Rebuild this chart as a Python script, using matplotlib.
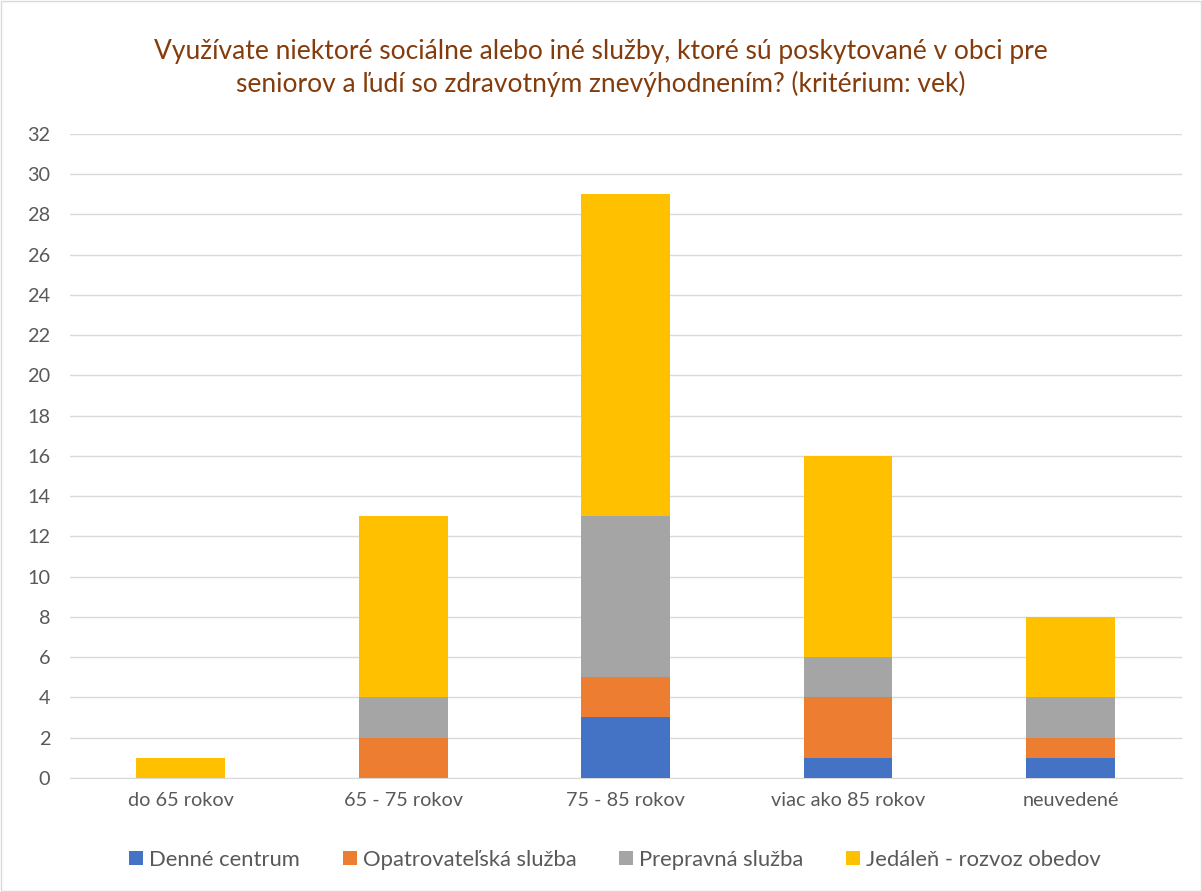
import matplotlib.pyplot as plt
import numpy as np

plt.rcParams['font.family'] = ['Lato', 'DejaVu Sans']

categories = ['do 65 rokov', '65 - 75 rokov', '75 - 85 rokov', 'viac ako 85 rokov', 'neuvedené']
series_names = ['Denné centrum', 'Opatrovateľská služba', 'Prepravná služba', 'Jedáleň - rozvoz obedov']
denne = [0, 0, 3, 1, 1]
opatr = [0, 2, 2, 3, 1]
preprav = [0, 2, 8, 2, 2]
jedalen = [1, 9, 16, 10, 4]
colors = ['#4472c4', '#ed7d31', '#a5a5a5', '#ffc000']

fig = plt.figure(figsize=(12.02, 8.92), dpi=100)
ax = fig.add_axes([0.058, 0.128, 0.925, 0.722])

x = np.arange(len(categories))
bottom = np.zeros(len(categories))
for vals, name, c in zip([denne, opatr, preprav, jedalen], series_names, colors):
    ax.bar(x, vals, 0.4, bottom=bottom, color=c, label=name, zorder=3)
    bottom += np.array(vals)

ax.set_xlim(-0.5, 4.5)
ax.set_ylim(0, 32)
ax.set_yticks(range(0, 33, 2))
ax.set_xticks(x)
ax.set_xticklabels(categories)
ax.yaxis.grid(True, color='#d9d9d9', linewidth=1, zorder=0)
for s in ['top', 'right', 'left']:
    ax.spines[s].set_visible(False)
ax.spines['bottom'].set_color('#d9d9d9')
ax.tick_params(axis='both', length=0, labelsize=14.3, colors='#595959')
ax.tick_params(axis='y', pad=14)
ax.tick_params(axis='x', pad=10)

fig.text(0.5, 0.924, 'Využívate niektoré sociálne alebo iné služby, ktoré sú poskytované v obci pre\n'
         'seniorov a ľudí so zdravotným znevýhodnením? (kritérium: vek)',
         ha='center', va='center', fontsize=19, color='#843c0c', linespacing=1.35)

leg = fig.legend(loc='center', bbox_to_anchor=(0.5117, 0.036), ncol=4, frameon=False,
                 fontsize=15.8, handlelength=0.64, handleheight=0.64, columnspacing=1.95,
                 handletextpad=0.27)
for t in leg.get_texts():
    t.set_color('#595959')

fig.patches.append(plt.Rectangle((0.001, 0.001), 0.998, 0.998, transform=fig.transFigure,
                                 fill=False, edgecolor='#d9d9d9', linewidth=1))

fig.savefig('out.png', dpi=100)
